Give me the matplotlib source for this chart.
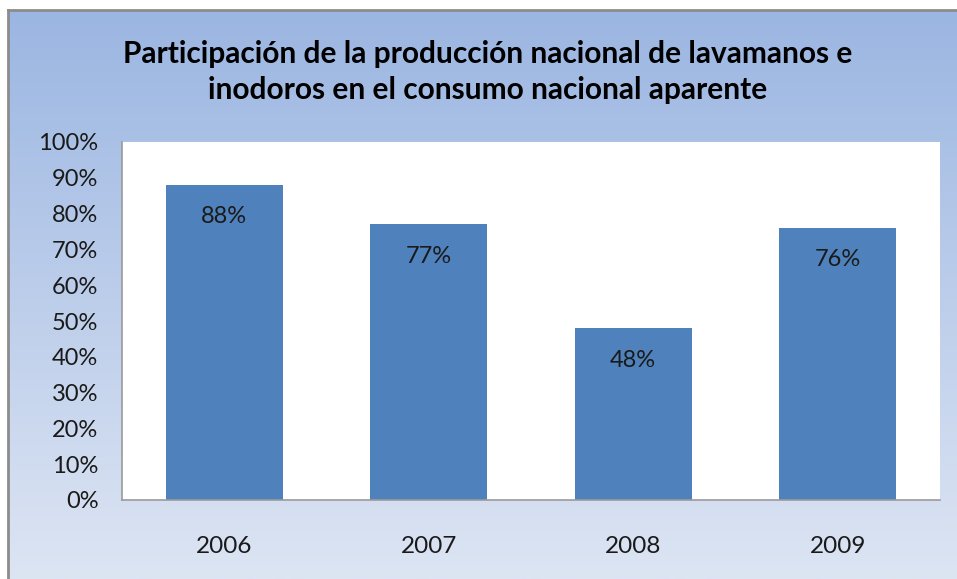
import numpy as np
import matplotlib.pyplot as plt
from matplotlib.colors import LinearSegmentedColormap

years = ['2006', '2007', '2008', '2009']
shares = [88, 77, 48, 76]
y_ticks = [0, 10, 20, 30, 40, 50, 60, 70, 80, 90, 100]

W, H = 957, 579
fig = plt.figure(figsize=(W / 100, H / 100), dpi=100)
plt.rcParams['font.family'] = ['Lato', 'DejaVu Sans']

# background with vertical gradient (chart area box, cut off at right/bottom)
bg = fig.add_axes([8 / W, 0, 1 - 8 / W, 1 - 10 / H])
grad = LinearSegmentedColormap.from_list('bg', ['#9bb6e2', '#dde5f3'])
bg.imshow(np.linspace(0, 1, 256).reshape(-1, 1), aspect='auto', cmap=grad,
          extent=[0, 1, 0, 1])
bg.set_xlim(0, 1)
bg.set_ylim(0, 1)
bg.set_xticks([])
bg.set_yticks([])
for side in ['right', 'bottom']:
    bg.spines[side].set_visible(False)
for side in ['left', 'top']:
    bg.spines[side].set_color('#8c8c8c')
    bg.spines[side].set_linewidth(2)

# plot area
ax = fig.add_axes([122 / W, 1 - 500 / H, (940 - 122) / W, (500 - 142) / H])
ax.set_facecolor('white')
x = np.arange(len(years))
bars = ax.bar(x, shares, width=0.57, color='#4f81bd')
ax.set_xlim(-0.5, len(years) - 0.5)
ax.set_ylim(0, 100)
ax.set_yticks(y_ticks)
ax.set_yticklabels([f'{t}%' for t in y_ticks], fontsize=17, color='#1a1a1a')
ax.set_xticks(x)
ax.set_xticklabels(years, fontsize=17.5, color='#1a1a1a')
ax.tick_params(axis='y', length=0, pad=17)
ax.tick_params(axis='x', length=0, pad=26)
ax.spines['top'].set_visible(False)
ax.spines['right'].set_visible(False)
for side in ['left', 'bottom']:
    ax.spines[side].set_color('#9a9a9a')
    ax.spines[side].set_linewidth(1.2)

for xi, v in zip(x, shares):
    ax.annotate(f'{v}%', (xi, v), xytext=(0, -23), textcoords='offset points',
                ha='center', va='center', fontsize=17, color='#1a1a1a')

fig.text(488 / W, 1 - 72 / H,
         'Participación de la producción nacional de lavamanos e\ninodoros en el consumo nacional aparente',
         ha='center', va='center', fontsize=21.5, fontweight='bold',
         linespacing=1.35, color='black')

fig.savefig('out.png', dpi=100)
